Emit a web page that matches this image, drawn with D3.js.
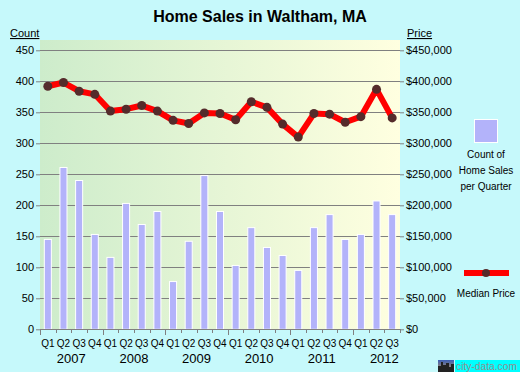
<!DOCTYPE html>
<html>
<head>
<meta charset="utf-8">
<script src="https://cdn.jsdelivr.net/npm/d3@7"></script>
<style>
body { margin: 0; background: #c6f9fb; }
svg { display: block; font-family: "Liberation Sans", Arial, sans-serif; }
</style>
</head>
<body>
<div id="chart"></div>
<script>
// Home sales chart

var quarters = ["Q1","Q2","Q3","Q4","Q1","Q2","Q3","Q4","Q1","Q2","Q3","Q4",
    "Q1","Q2","Q3","Q4","Q1","Q2","Q3","Q4","Q1","Q2","Q3"];
var years = ["2007","2008","2009","2010","2011","2012"];
var salesCount = [145,261,240,153,116,203,169,190,77,142,248,190,
    103,164,132,119,95,164,185,145,153,207,185];
var medianPrice = [392000,398000,384000,379000,352000,355000,361000,352000,337000,332000,349000,348000,
    338000,367000,358000,331000,310000,348000,347000,334000,343000,387000,341000];
var countTicks = [0,50,100,150,200,250,300,350,400,450];

var width = 520;
var height = 372;

var margin = {
    top: 40,
    bottom: 43,
    left: 40,
    right: 120
}

var svg = d3.select('#chart')
    .append('svg')
    .attr('width', width)
    .attr('height', height);

var plotW = width - margin.left - margin.right;
var plotH = height - margin.top - margin.bottom;

var idx = quarters.map(function(d, i) { return i; });

var x_scale = d3.scaleBand()
    .domain(idx)
    .range([margin.left, margin.left + plotW])
    .paddingInner(0.55)
    .paddingOuter(0.275);

var x_band = d3.scaleBand()
    .domain(idx)
    .range([margin.left, margin.left + plotW]);

// 0 at 329.3, 450 at 50.3
var y_scale = d3.scaleLinear()
    .domain([0, 450])
    .range([329.3, 50.3]);

var y_price = d3.scaleLinear()
    .domain([0, 450000])
    .range([329.3, 50.3]);

// background gradient
var defs = svg.append('defs');
var grad = defs.append('linearGradient')
    .attr('id', 'bg')
    .attr('x1', '0%').attr('x2', '100%');
grad.append('stop').attr('offset', '0%').attr('stop-color', '#cdeccb');
grad.append('stop').attr('offset', '100%').attr('stop-color', '#ffffe0');

svg.append('rect')
    .attr('x', margin.left)
    .attr('y', margin.top)
    .attr('width', plotW)
    .attr('height', 329.3 - margin.top)
    .attr('fill', 'url(#bg)');

// title
svg.append('text')
    .attr('x', 260)
    .attr('y', 22)
    .attr('text-anchor', 'middle')
    .style('font-weight', 'bold')
    .style('font-size', '16px')
    .text('Home Sales in Waltham, MA');

// grid lines
svg.append('g')
    .selectAll('line')
    .data(countTicks.filter(function(d) { return d > 0; }))
    .enter()
    .append('line')
    .attr('x1', margin.left)
    .attr('x2', margin.left + plotW)
    .attr('y1', function(d) { return Math.round(y_scale(d)) + 0.5; })
    .attr('y2', function(d) { return Math.round(y_scale(d)) + 0.5; })
    .attr('stroke', '#808080')
    .attr('stroke-width', 1);

// left axis
var y_axis = d3.axisLeft(y_scale)
    .tickValues(countTicks)
    .tickSize(4)
    .tickPadding(2);

svg.append('g')
    .attr('class', 'y axis')
    .attr('transform', 'translate(' + margin.left + ',0)')
    .call(y_axis);

// right axis
var y_axis2 = d3.axisRight(y_price)
    .tickValues(countTicks.map(function(d) { return d * 1000; }))
    .tickSize(4)
    .tickPadding(2)
    .tickFormat(function(d) { return '$' + d3.format(',')(d); });

svg.append('g')
    .attr('class', 'y axis2')
    .attr('transform', 'translate(' + (margin.left + plotW) + ',0)')
    .call(y_axis2);

svg.selectAll('.axis path.domain').remove();
svg.selectAll('.axis, .axis2').selectAll('.tick line').attr('stroke', '#808080');
svg.selectAll('.axis, .axis2').selectAll('text')
    .style('font-size', '11px')
    .attr('fill', '#000');
svg.selectAll('.axis2 path.domain').remove();

// axis titles
svg.append('text')
    .attr('x', 10).attr('y', 37)
    .style('font-size', '11px')
    .style('text-decoration', 'underline')
    .text('Count');
svg.append('text')
    .attr('x', 407).attr('y', 37)
    .style('font-size', '11px')
    .style('text-decoration', 'underline')
    .text('Price');

// bars
svg.append('g')
    .selectAll('.bar')
    .data(salesCount)
    .enter()
    .append('rect')
    .attr('class', 'bar')
    .attr('x', function(d, i) { return x_scale(i); })
    .attr('width', x_scale.bandwidth())
    .attr('y', function(d) { return y_scale(d); })
    .attr('height', function(d) { return y_scale(0) - y_scale(d); })
    .attr('fill', '#b3b3fa')
    .attr('stroke', '#ffffff')
    .attr('stroke-width', 1);

// x axis line and ticks
var xg = svg.append('g').attr('class', 'x axis');
xg.append('line')
    .attr('x1', margin.left).attr('x2', margin.left + plotW)
    .attr('y1', 329.5).attr('y2', 329.5)
    .attr('stroke', '#808080');
xg.selectAll('.qtick')
    .data(idx.concat([quarters.length]))
    .enter()
    .append('line')
    .attr('x1', function(d) { return Math.round(margin.left + d * x_band.step()) + 0.5; })
    .attr('x2', function(d) { return Math.round(margin.left + d * x_band.step()) + 0.5; })
    .attr('y1', 329)
    .attr('y2', function(d) { return d % 4 == 0 ? 335 : 333; })
    .attr('stroke', '#808080');

xg.selectAll('.qlabel')
    .data(quarters)
    .enter()
    .append('text')
    .attr('x', function(d, i) { return x_band(i) + x_band.bandwidth() / 2; })
    .attr('y', 347)
    .attr('text-anchor', 'middle')
    .style('font-size', '10px')
    .text(function(d) { return d; });

xg.selectAll('.ylabel')
    .data(years)
    .enter()
    .append('text')
    .attr('x', function(d, i) { return margin.left + (i * 4 + 2) * x_band.step(); })
    .attr('y', 363)
    .attr('text-anchor', 'middle')
    .style('font-size', '13px')
    .text(function(d) { return d; });

// price line
var line = d3.line()
    .x(function(d, i) { return x_band(i) + x_band.bandwidth() / 2; })
    .y(function(d) { return y_price(d); });

svg.append('path')
    .datum(medianPrice)
    .attr('d', line)
    .attr('fill', 'none')
    .attr('stroke', '#ff0000')
    .attr('stroke-width', 6)
    .attr('stroke-linejoin', 'round');

svg.append('g')
    .selectAll('circle')
    .data(medianPrice)
    .enter()
    .append('circle')
    .attr('cx', function(d, i) { return x_band(i) + x_band.bandwidth() / 2; })
    .attr('cy', function(d) { return y_price(d); })
    .attr('r', 4.5)
    .attr('fill', '#552b2b');

// legend
var lg = svg.append('g').attr('class', 'legend');
lg.append('rect')
    .attr('x', 474.5).attr('y', 119.5)
    .attr('width', 23).attr('height', 23)
    .attr('fill', '#b3b3fa')
    .attr('stroke', '#ffffff');
lg.selectAll('.ltext')
    .data(['Count of', 'Home Sales', 'per Quarter'])
    .enter()
    .append('text')
    .attr('x', 486)
    .attr('y', function(d, i) { return 158 + i * 16; })
    .attr('text-anchor', 'middle')
    .style('font-size', '10px')
    .text(function(d) { return d; });

lg.append('rect')
    .attr('x', 464).attr('y', 270)
    .attr('width', 45).attr('height', 6)
    .attr('fill', '#ff0000');
lg.append('circle')
    .attr('cx', 486).attr('cy', 273)
    .attr('r', 4)
    .attr('fill', '#552b2b');
lg.append('text')
    .attr('x', 486).attr('y', 297)
    .attr('text-anchor', 'middle')
    .style('font-size', '10px')
    .text('Median Price');

// city-data logo
var logo = svg.append('g');
var lgrad = defs.append('linearGradient')
    .attr('id', 'sky').attr('x1', '0%').attr('x2', '0%').attr('y1', '0%').attr('y2', '100%');
lgrad.append('stop').attr('offset', '0%').attr('stop-color', '#3a5fb8');
lgrad.append('stop').attr('offset', '100%').attr('stop-color', '#c89a50');
logo.append('rect')
    .attr('x', 438).attr('y', 360)
    .attr('width', 16).attr('height', 12)
    .attr('fill', 'url(#sky)');
logo.append('path')
    .attr('d', 'M438,372 L438,366 L441,366 L441,362 L443,362 L443,365 L446,365 L446,363 L449,363 L449,367 L451,367 L451,364 L454,364 L454,372 Z')
    .attr('fill', '#222');
logo.append('rect')
    .attr('x', 455).attr('y', 360)
    .attr('width', 65).attr('height', 12)
    .attr('fill', '#00ffff');
logo.append('text')
    .attr('x', 456).attr('y', 369.5)
    .attr('textLength', 61)
    .attr('lengthAdjust', 'spacingAndGlyphs')
    .style('font-size', '10px')
    .attr('fill', '#909090')
    .text('city-data.com');
</script>
</body>
</html>
